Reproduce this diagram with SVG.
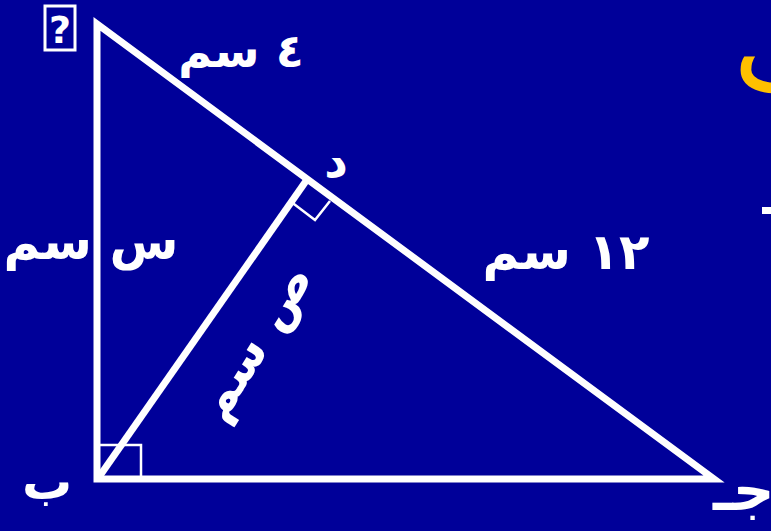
<svg xmlns="http://www.w3.org/2000/svg" width="771" height="531" viewBox="0 0 771 531">
<style>
.t{font-family:"DejaVu Sans",sans-serif;font-weight:bold;fill:#fff;}
.edge{fill:none;stroke:#fff;stroke-width:7;stroke-linejoin:miter;}
.mark{fill:none;stroke:#fff;stroke-width:2.5;}
</style>
<rect width="771" height="531" fill="#000099"/>
<g id="connectors">
<polygon class="edge" points="97,24 97,479 714,479"/>
<line class="edge" x1="99" y1="477" x2="306" y2="181" stroke-width="5"/>
<polyline class="mark" points="290,201 315,220 330,201"/>
<rect class="mark" x="97" y="445" width="44" height="34"/>
</g>
<g id="nodeA">
<rect x="45" y="6" width="30" height="44" fill="none" stroke="#fff" stroke-width="3"/>
<text class="t" x="60" y="43" font-size="38" text-anchor="middle">?</text>
</g>
<g id="nodeB"><text class="t" x="47" y="499" font-size="50" text-anchor="middle">ب</text></g>
<g id="nodeC"><text class="t" x="713" y="510" font-size="58" text-anchor="start">جـ</text></g>
<g id="nodeD"><text class="t" x="336" y="177" font-size="46" text-anchor="middle">د</text></g>
<g id="labels">
<text class="t" x="241" y="67" font-size="46" text-anchor="middle">٤ سم</text>
<text class="t" x="91" y="259" font-size="50" text-anchor="middle">س سم</text>
<text class="t" x="566" y="269" font-size="50" text-anchor="middle">١٢ سم</text>
<text class="t" font-size="50" text-anchor="middle" transform="translate(258,344) rotate(-58)" y="12">ص سم</text>
</g>
<g id="title">
<text x="733" y="92" font-size="120" font-family="DejaVu Sans,sans-serif" fill="#FFC000" text-anchor="start">ب</text>
<rect x="762" y="207" width="9" height="7" fill="#fff"/>
</g>
</svg>
